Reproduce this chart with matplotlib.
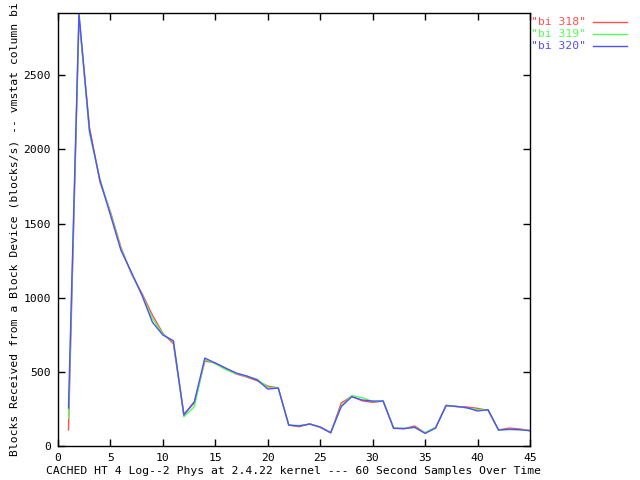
import matplotlib
matplotlib.use("Agg")
import matplotlib.pyplot as plt
from matplotlib.lines import Line2D

x = list(range(1, 46))
bi318 = [108, 2890, 2150, 1780, 1580, 1340, 1160, 1030, 883, 760, 690, 215, 290, 573, 560,
         520, 485, 465, 440, 404, 391, 141, 130, 150, 125, 88, 290, 335, 305, 294,
         303, 120, 117, 135, 88, 125, 275, 265, 263, 254, 240, 108, 121, 115, 103]
bi319 = [189, 2900, 2110, 1800, 1570, 1330, 1165, 1020, 860, 755, 705, 197, 265, 583, 555,
         515, 488, 470, 450, 395, 391, 141, 138, 148, 128, 90, 270, 340, 326, 300,
         303, 120, 120, 125, 90, 125, 272, 268, 255, 245, 245, 108, 112, 110, 105]
bi320 = [256, 2918, 2129, 1792, 1557, 1320, 1172, 1017, 835, 748, 710, 209, 299, 593, 559,
         525, 492, 472, 445, 384, 391, 141, 135, 148, 128, 90, 265, 332, 310, 303,
         303, 119, 117, 126, 85, 121, 272, 267, 258, 236, 245, 108, 112, 110, 103]
labels = ['"bi 318"', '"bi 319"', '"bi 320"']
colors = ['#ff5050', '#50ff50', '#5050ff']

xticks = [0, 5, 10, 15, 20, 25, 30, 35, 40, 45]
yticks = [0, 500, 1000, 1500, 2000, 2500]

plt.rcParams['font.family'] = ['DejaVu Sans Mono']
fs = 8.2

fig = plt.figure(figsize=(6.4, 4.8), dpi=100)
ax = fig.add_axes([58/640, 1 - 446/480, (530-58)/640, (446-13)/480])

for ys, c in zip([bi318, bi319, bi320], colors):
    ax.plot(x, ys, color=c, lw=1.0)

ax.set_xlim(0, 45)
ax.set_ylim(0, 2920)
ax.set_xticks(xticks)
ax.set_yticks(yticks)
ax.tick_params(direction='in', length=5, width=1, top=True, right=True,
               labelsize=fs, pad=5, colors='black')
for s in ax.spines.values():
    s.set_linewidth(1)
ax.set_xlabel('CACHED HT 4 Log--2 Phys at 2.4.22 kernel --- 60 Second Samples Over Time',
              fontsize=fs, labelpad=2)
ax.set_ylabel('Blocks Received from a Block Device (blocks/s) -- vmstat column bi',
              fontsize=fs, labelpad=3)

# legend drawn manually (outside, upper right)
for i, (lab, c) in enumerate(zip(labels, colors)):
    ypix = 22 + 12 * i
    yf = 1 - ypix / 480
    fig.text(586/640, yf, lab, color=c, fontsize=fs, ha='right', va='center')
    fig.add_artist(Line2D([593/640, 627/640], [yf, yf], color=c, lw=1.0,
                          transform=fig.transFigure))

fig.savefig('out.png', dpi=100)
